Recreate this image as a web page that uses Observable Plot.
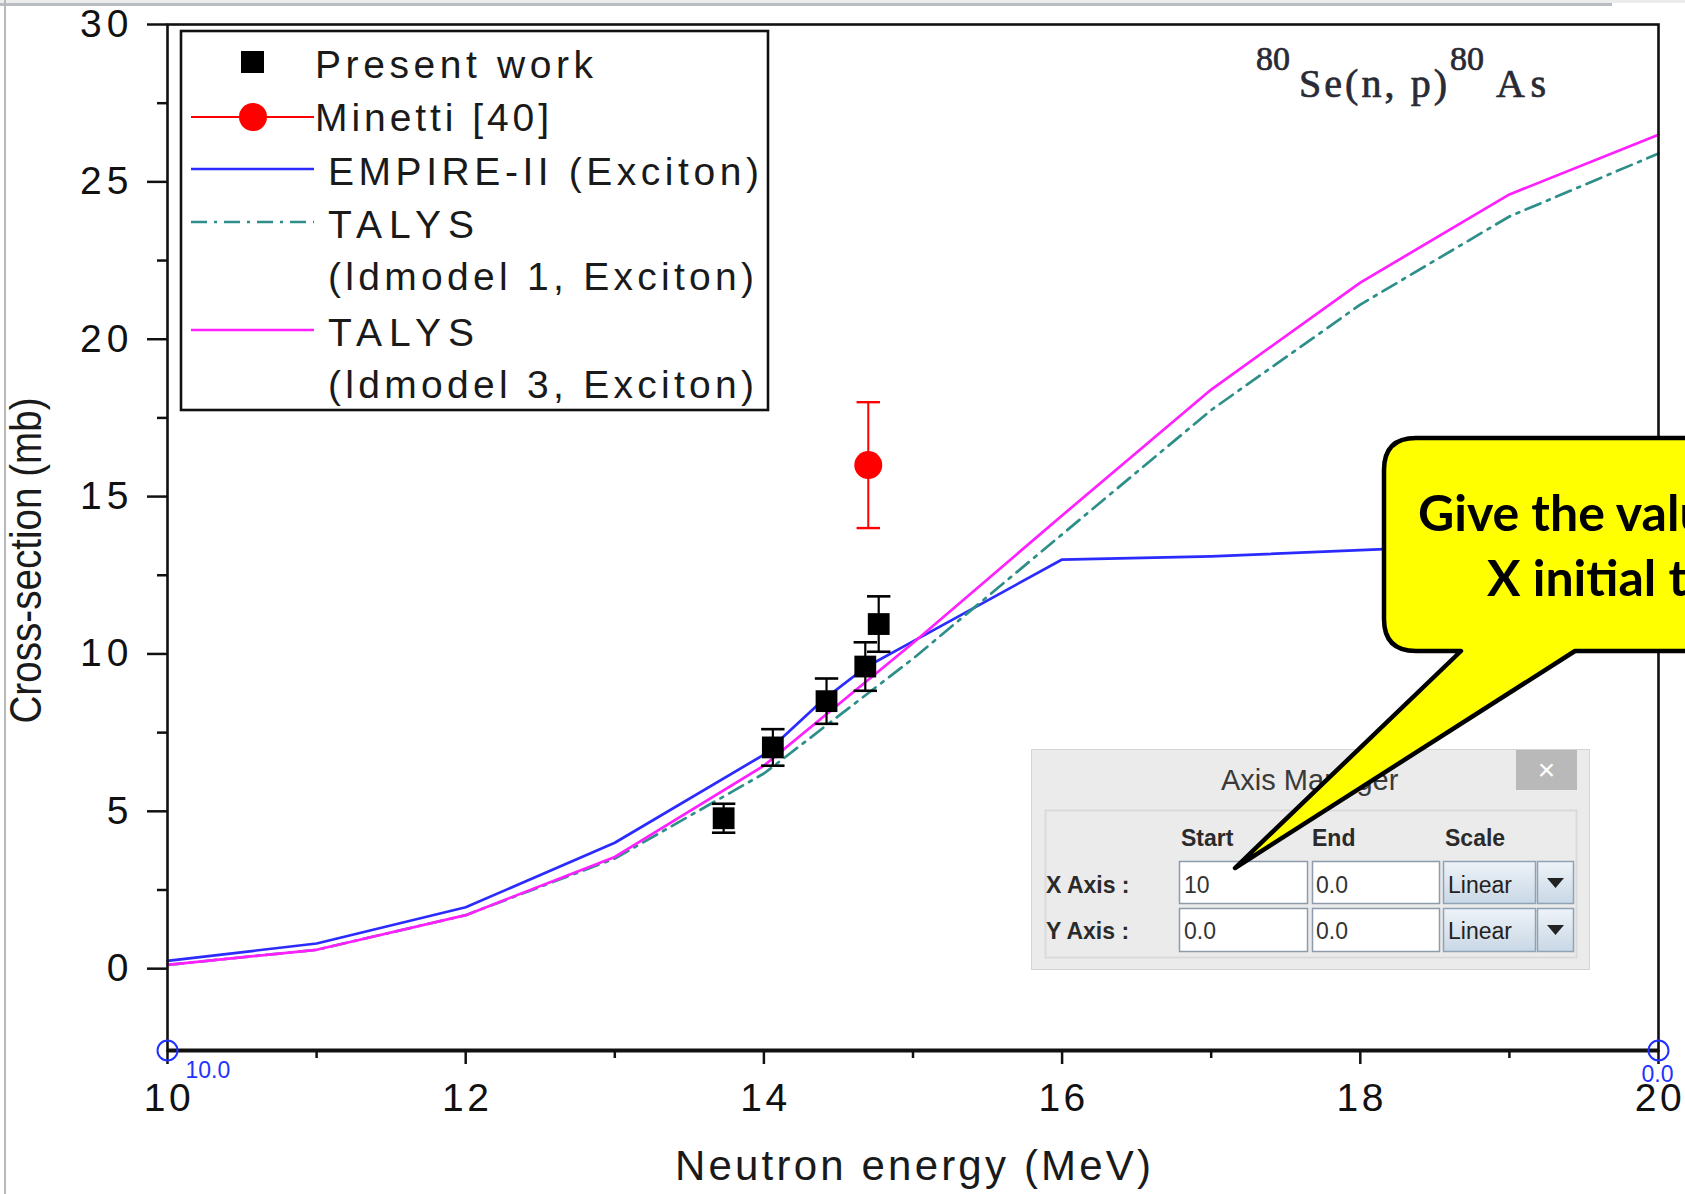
<!DOCTYPE html>
<html><head><meta charset="utf-8">
<script src="https://cdn.jsdelivr.net/npm/d3@7"></script>
<script src="https://cdn.jsdelivr.net/npm/@observablehq/plot@0.6"></script>
<style>
html,body{margin:0;padding:0;background:#fff;overflow:hidden;}
#wrap{position:relative;width:1685px;height:1194px;overflow:hidden;background:#fff;}
#wrap > svg{position:absolute;left:0;top:0;}
.ov{position:absolute;left:0;top:0;pointer-events:none;}
</style></head>
<body><div id="wrap"></div>
<script>
// ---------- data ----------
const xTicks = [10, 12, 14, 16, 18, 20];
const xMinor = [11, 13, 15, 17, 19];
const yTicks = [0, 5, 10, 15, 20, 25, 30];
const yMinor = [2.5, 7.5, 12.5, 17.5, 22.5, 27.5];
const xDomain = [10, 20];
const yDomain = [-2.6, 30];

const presentE   = [13.73, 14.06, 14.42, 14.68, 14.77];
const presentXS  = [4.78, 7.03, 8.5, 9.6, 10.95];
const presentErr = [0.46, 0.58, 0.72, 0.77, 0.88];

const minettiE   = [14.70];
const minettiXS  = [16.0];
const minettiErr = [2.0];

const empireE  = [10, 11, 12, 13, 14, 14.4, 14.68, 15, 16, 17, 18, 19, 20];
const empireXS = [0.25, 0.8, 1.95, 4.0, 6.8, 8.55, 9.57, 10.4, 13.0, 13.1, 13.3, 13.5, 13.7];

const talysE    = [10, 11, 12, 13, 14, 15, 16, 17, 18, 19, 20];
const talys1XS  = [0.12, 0.6, 1.7, 3.5, 6.2, 9.85, 13.8, 17.75, 21.1, 23.9, 25.9];
const talys3XS  = [0.12, 0.6, 1.7, 3.55, 6.45, 10.35, 14.4, 18.4, 21.8, 24.6, 26.5];

const calibE     = [10, 20];
const calibLabel = ["10.0", "0.0"];

// ---------- tables ----------
const rows = (xs, ys) => xs.map((x, i) => ({x, y: ys[i]}));
const errRows = (xs, ys, es) => xs.map((x, i) => ({x, y: ys[i], lo: ys[i] - es[i], hi: ys[i] + es[i]}));
const present = errRows(presentE, presentXS, presentErr);
const minetti = errRows(minettiE, minettiXS, minettiErr);
const empire = rows(empireE, empireXS);
const talys1 = rows(talysE, talys1XS);
const talys3 = rows(talysE, talys3XS);
const calib = calibE.map((x, i) => ({x, label: calibLabel[i]}));

const capSymbol = {draw(ctx, size) { const w = Math.sqrt(size); ctx.moveTo(-w, 0); ctx.lineTo(w, 0); }};
const SANS = "'Liberation Sans', Arial, sans-serif";

const chart = Plot.plot({
  width: 1685, height: 1194,
  marginLeft: 167, marginRight: 27, marginTop: 24, marginBottom: 144,
  x: {domain: xDomain},
  y: {domain: yDomain},
  style: {fontFamily: SANS, background: "transparent", color: "#111", overflow: "visible"},
  marks: [
    Plot.line(empire, {x: "x", y: "y", stroke: "#2b2bff", strokeWidth: 2.7}),
    Plot.line(talys1, {x: "x", y: "y", stroke: "#2e8f8a", strokeWidth: 2.7, strokeDasharray: "16,7,3,7"}),
    Plot.line(talys3, {x: "x", y: "y", stroke: "#ff1fff", strokeWidth: 2.7}),
    Plot.ruleX(present, {x: "x", y1: "lo", y2: "hi", stroke: "#000", strokeWidth: 2.2}),
    Plot.dot(present, {x: "x", y: "lo", symbol: capSymbol, r: 6.6, stroke: "#000", strokeWidth: 2.6}),
    Plot.dot(present, {x: "x", y: "hi", symbol: capSymbol, r: 6.6, stroke: "#000", strokeWidth: 2.6}),
    Plot.dot(present, {x: "x", y: "y", symbol: "square", r: 12.3, fill: "#000"}),
    Plot.ruleX(minetti, {x: "x", y1: "lo", y2: "hi", stroke: "#ff0000", strokeWidth: 2}),
    Plot.dot(minetti, {x: "x", y: "lo", symbol: capSymbol, r: 6.6, stroke: "#ff0000", strokeWidth: 2.4}),
    Plot.dot(minetti, {x: "x", y: "hi", symbol: capSymbol, r: 6.6, stroke: "#ff0000", strokeWidth: 2.4}),
    Plot.dot(minetti, {x: "x", y: "y", r: 14, fill: "#ff0000"}),
    Plot.frame({stroke: "#111", strokeWidth: 2.6}),
    Plot.ruleY([yDomain[0]], {stroke: "#111", strokeWidth: 4}),
    Plot.axisX({ticks: xTicks, tickSize: 14, tickPadding: 19, fontSize: 39, label: null, stroke: "#111", strokeWidth: 2.5, tickFormat: d => String(d)}),
    Plot.axisX({ticks: xMinor, tickSize: 8, text: null, label: null, stroke: "#111", strokeWidth: 2.5}),
    Plot.axisY({ticks: yTicks, tickSize: 20, tickPadding: 17, fontSize: 39, label: null, stroke: "#111", strokeWidth: 2.5, tickFormat: d => String(d)}),
    Plot.axisY({ticks: yMinor, tickSize: 10, text: null, label: null, stroke: "#111", strokeWidth: 2.5}),
    Plot.text(["Neutron energy (MeV)"], {frameAnchor: "bottom", dy: 129, textAnchor: "middle", fontSize: 42, fill: "#1a1a1a"}),
    Plot.text(["Cross-section (mb)"], {frameAnchor: "left", dx: -141, dy: 23, textAnchor: "middle", rotate: -90, fontSize: 44, fill: "#1a1a1a"}),
    Plot.dot(calib, {x: "x", frameAnchor: "bottom", r: 10, stroke: "#2233ff", strokeWidth: 2, fill: "none"}),
    Plot.text(calib.filter(d => d.x === xDomain[0]), {x: "x", text: "label", frameAnchor: "bottom", dy: 27, dx: 18, textAnchor: "start", fontSize: 23, fill: "#2233ff"}),
    Plot.text(calib.filter(d => d.x === xDomain[1]), {x: "x", text: "label", frameAnchor: "bottom", dy: 31, dx: -1, textAnchor: "middle", fontSize: 23, fill: "#2233ff"})
  ]
});

const sel = d3.select(chart);
sel.selectAll('g[aria-label="x-axis tick label"] text').attr("letter-spacing", 3.5).attr("dx", 1.5);
sel.selectAll('g[aria-label="y-axis tick label"] text').attr("letter-spacing", 5).attr("dx", 3);
sel.selectAll('g[aria-label="text"] text').each(function() {
  const t = this.textContent;
  if (t === "Neutron energy (MeV)") d3.select(this).attr("textLength", 476).attr("lengthAdjust", "spacing");
  if (t === "Cross-section (mb)") d3.select(this).attr("textLength", 326).attr("lengthAdjust", "spacingAndGlyphs");
});

const wrap = document.getElementById("wrap");
wrap.appendChild(chart);

// ---------- overlay: legend, annotation, window chrome, dialog, callout ----------
const NS = "http://www.w3.org/2000/svg";
const ov = document.createElementNS(NS, "svg");
ov.setAttribute("class", "ov");
ov.setAttribute("width", 1685);
ov.setAttribute("height", 1194);
ov.innerHTML = `
<defs>
  <linearGradient id="dd" x1="0" y1="0" x2="0" y2="1">
    <stop offset="0" stop-color="#eef3f8"/><stop offset="1" stop-color="#c9d7e5"/>
  </linearGradient>
</defs>
<rect x="0" y="0" width="1685" height="3" fill="#ececec"/>
<rect x="0" y="3" width="1612" height="3" fill="#b9bdc2"/>
<rect x="4" y="0" width="2" height="1194" fill="#b8b8b8"/>

<g font-family="${SANS}" fill="#1a1a1a" font-size="39">
  <rect x="181" y="31" width="587" height="379" fill="#fff" stroke="#111" stroke-width="2.6"/>
  <rect x="241" y="51" width="23" height="22" fill="#000"/>
  <line x1="191" x2="314" y1="117" y2="117" stroke="#ff0000" stroke-width="2"/>
  <circle cx="253" cy="117" r="14" fill="#ff0000"/>
  <line x1="191" x2="314" y1="169" y2="169" stroke="#2b2bff" stroke-width="2.7"/>
  <line x1="191" x2="314" y1="222" y2="222" stroke="#2e8f8a" stroke-width="2.7" stroke-dasharray="16,7,3,7"/>
  <line x1="191" x2="314" y1="330" y2="330" stroke="#ff1fff" stroke-width="2.7"/>
  <text x="315" y="78" textLength="278" lengthAdjust="spacing">Present work</text>
  <text x="315" y="131" textLength="234" lengthAdjust="spacing">Minetti [40]</text>
  <text x="328" y="185" textLength="431" lengthAdjust="spacing">EMPIRE-II (Exciton)</text>
  <text x="328" y="238" textLength="146" lengthAdjust="spacing">TALYS</text>
  <text x="328" y="290" textLength="426" lengthAdjust="spacing">(ldmodel 1, Exciton)</text>
  <text x="328" y="346" textLength="146" lengthAdjust="spacing">TALYS</text>
  <text x="328" y="398" textLength="426" lengthAdjust="spacing">(ldmodel 3, Exciton)</text>
</g>

<g font-family="'Liberation Serif', 'Times New Roman', serif" fill="#2a2a35" stroke="#2a2a35" stroke-width="0.7">
  <text x="1256" y="70" font-size="34">80</text>
  <text x="1299" y="97" font-size="40" textLength="148" lengthAdjust="spacing">Se(n, p)</text>
  <text x="1450" y="70" font-size="34">80</text>
  <text x="1496" y="97" font-size="40" textLength="50" lengthAdjust="spacing">As</text>
</g>

<g font-family="${SANS}">
  <rect x="1031.5" y="749.5" width="558" height="220" fill="#ebebeb" stroke="#d4d4d4"/>
  <rect x="1516" y="750" width="61" height="40" fill="#b9b9b9"/>
  <text x="1546.5" y="780" font-size="30" fill="#fff" text-anchor="middle">×</text>
  <text x="1221" y="790" font-size="29" fill="#3a3a3a">Axis Manager</text>
  <rect x="1045.5" y="810.5" width="531" height="147" fill="none" stroke="#dadada" stroke-width="2"/>
  <g font-size="23" font-weight="bold" fill="#2a2a2a">
    <text x="1181" y="846">Start</text>
    <text x="1312" y="846">End</text>
    <text x="1445" y="846">Scale</text>
    <text x="1046" y="893">X Axis :</text>
    <text x="1046" y="939">Y Axis :</text>
  </g>
  <g fill="#fff" stroke="#8d9cab" stroke-width="1.5">
    <rect x="1179.5" y="861.5" width="128" height="42"/>
    <rect x="1312.5" y="861.5" width="127" height="42"/>
    <rect x="1179.5" y="908.5" width="128" height="43"/>
    <rect x="1312.5" y="908.5" width="127" height="43"/>
  </g>
  <g font-size="23" fill="#333">
    <text x="1184" y="893">10</text>
    <text x="1316" y="893">0.0</text>
    <text x="1184" y="939">0.0</text>
    <text x="1316" y="939">0.0</text>
  </g>
  <g stroke="#8fa3b7" stroke-width="1.5" fill="url(#dd)">
    <rect x="1443.5" y="861.5" width="92" height="42"/>
    <rect x="1537.5" y="861.5" width="36" height="42"/>
    <rect x="1443.5" y="908.5" width="92" height="43"/>
    <rect x="1537.5" y="908.5" width="36" height="43"/>
  </g>
  <g font-size="23" fill="#222">
    <text x="1448" y="893">Linear</text>
    <text x="1448" y="939">Linear</text>
  </g>
  <path d="M1547 878 L1564 878 L1555.5 888 Z" fill="#222"/>
  <path d="M1547 925 L1564 925 L1555.5 935 Z" fill="#222"/>
</g>

<path d="M1416 438 H1720 V651 H1575 L1235 868 L1461 651 H1416 Q1384 651 1384 619 V470 Q1384 438 1416 438 Z"
      fill="#ffff00" stroke="#000" stroke-width="4.5" stroke-linejoin="round"/>
<g font-family="Lato, 'Open Sans', sans-serif" font-weight="bold" font-size="50" fill="#000">
  <text x="1418" y="531">Give the valu</text>
  <text x="1487" y="596">X initial t</text>
</g>
`;
wrap.appendChild(ov);
</script>
</body></html>
